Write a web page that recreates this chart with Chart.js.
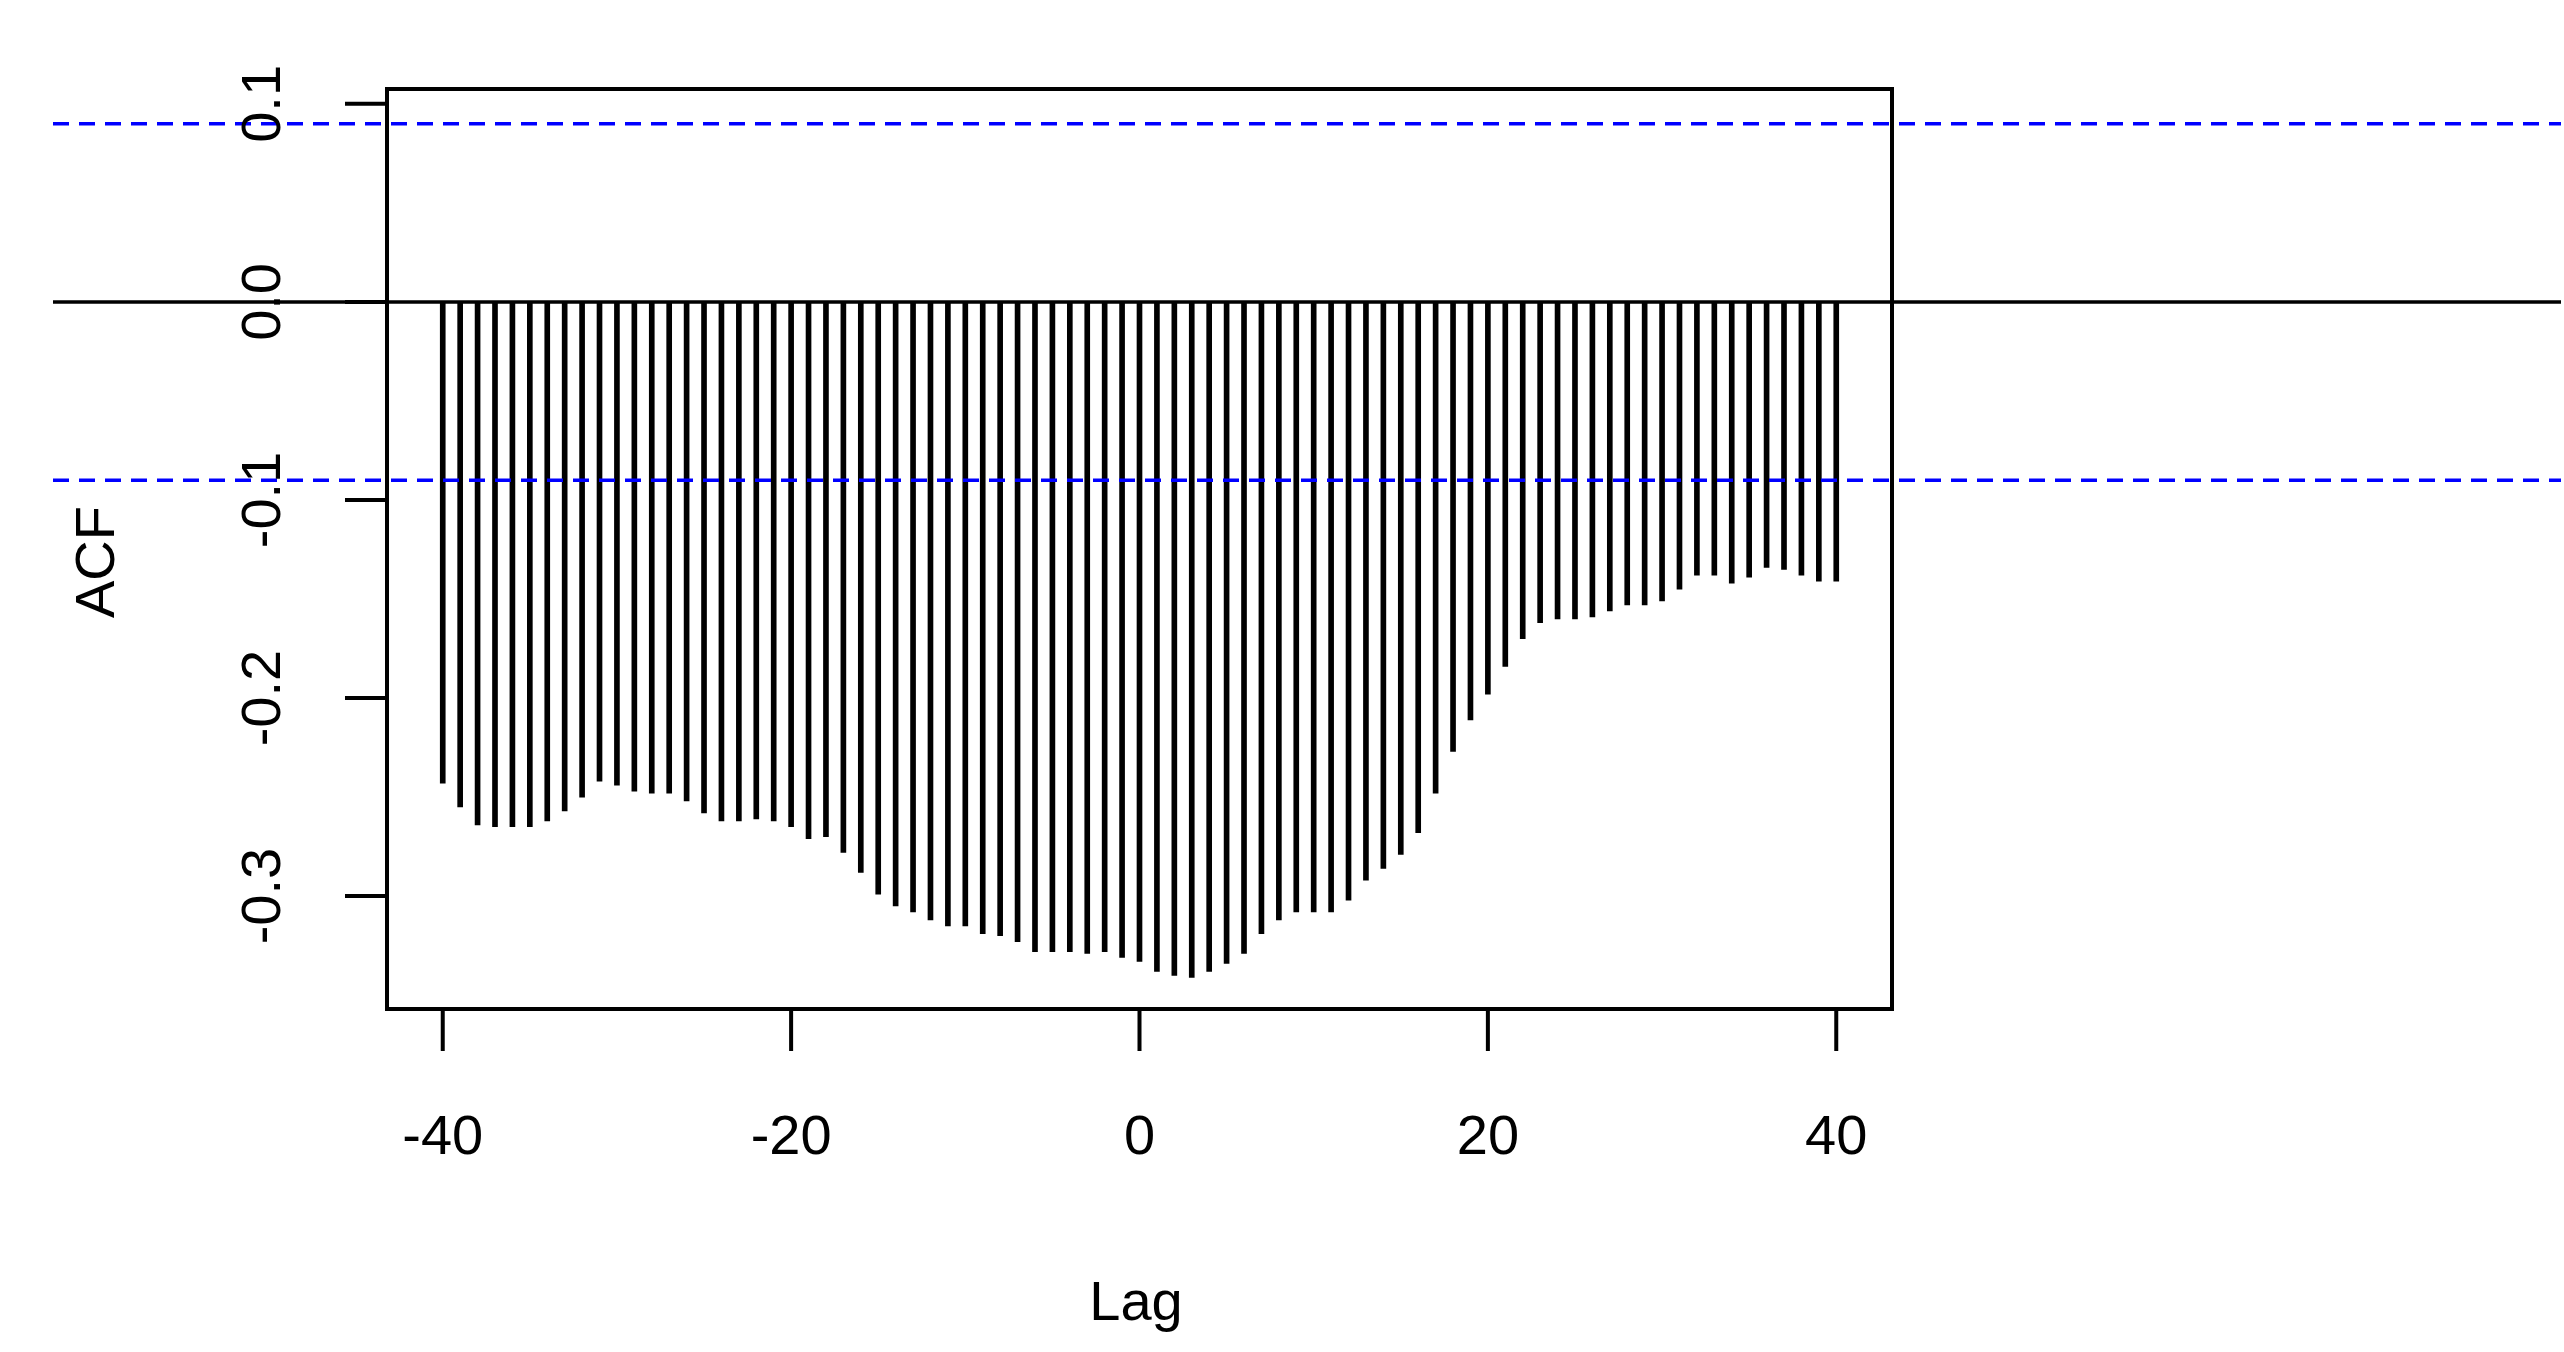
<!DOCTYPE html>
<html>
<head>
<meta charset="utf-8">
<script src="https://cdn.jsdelivr.net/npm/chart.js@4.4.0/dist/chart.umd.min.js"></script>
<style>
html, body { margin: 0; padding: 0; background: #fff; }
#wrap { width: 2564px; height: 1352px; position: relative; }
</style>
</head>
<body>
<div id="wrap"><canvas id="acf"></canvas></div>
<script>
const lags = []
for (let k = -40; k <= 40; k++) lags.push(k)
const acfValues = [
  -0.243, -0.255, -0.264, -0.265, -0.265, -0.265, -0.262, -0.257, -0.250, -0.242,
  -0.244, -0.247, -0.248, -0.248, -0.252, -0.258, -0.262, -0.262, -0.261, -0.262,
  -0.265, -0.271, -0.270, -0.278, -0.288, -0.299, -0.305, -0.308, -0.312, -0.315,
  -0.315, -0.319, -0.320, -0.323, -0.328, -0.328, -0.328, -0.329, -0.328, -0.331,
  -0.333,
  -0.338, -0.340, -0.341, -0.338, -0.334, -0.329, -0.319, -0.312, -0.308, -0.308,
  -0.308, -0.302, -0.292, -0.286, -0.279, -0.268, -0.248, -0.227, -0.211, -0.198,
  -0.184, -0.170, -0.162, -0.160, -0.160, -0.159, -0.156, -0.153, -0.153, -0.151,
  -0.145, -0.138, -0.138, -0.142, -0.139, -0.134, -0.135, -0.138, -0.141, -0.141
]
const xTicks = [-40, -20, 0, 20, 40]
const yTicks = [-0.3, -0.2, -0.1, 0.0, 0.1]
const yTickLabels = ["-0.3", "-0.2", "-0.1", "0.0", "0.1"]
const ciBound = 0.09

const font = "56px 'Liberation Sans', Arial, sans-serif"

const rStyle = {
  id: "rStyle",
  afterDatasetsDraw(chart) {
    const ctx = chart.ctx
    const a = chart.chartArea
    const xs = chart.scales.x, ys = chart.scales.y
    const W = chart.width
    ctx.save()
    // zero line and confidence bounds across the whole width
    ctx.strokeStyle = "#000"
    ctx.lineWidth = 3.5
    ctx.beginPath()
    ctx.moveTo(53, ys.getPixelForValue(0))
    ctx.lineTo(W - 3, ys.getPixelForValue(0))
    ctx.stroke()
    ctx.strokeStyle = "#0000ff"
    ctx.setLineDash([16, 10])
    ;[ciBound, -ciBound].forEach(v => {
      ctx.beginPath()
      ctx.moveTo(53, ys.getPixelForValue(v))
      ctx.lineTo(W - 3, ys.getPixelForValue(v))
      ctx.stroke()
    })
    ctx.setLineDash([])
    // box
    ctx.strokeStyle = "#000"
    ctx.lineWidth = 4
    ctx.strokeRect(a.left, a.top, a.right - a.left, a.bottom - a.top)
    // x axis
    ctx.fillStyle = "#000"
    ctx.font = font
    ctx.textAlign = "center"
    ctx.textBaseline = "middle"
    ctx.beginPath()
    ctx.moveTo(xs.getPixelForValue(-40), a.bottom)
    ctx.lineTo(xs.getPixelForValue(40), a.bottom)
    xTicks.forEach(t => {
      const px = xs.getPixelForValue(t)
      ctx.moveTo(px, a.bottom)
      ctx.lineTo(px, a.bottom + 42)
    })
    ctx.stroke()
    xTicks.forEach(t => ctx.fillText(String(t), xs.getPixelForValue(t), a.bottom + 130))
    // y axis
    ctx.beginPath()
    ctx.moveTo(a.left, ys.getPixelForValue(-0.3))
    ctx.lineTo(a.left, ys.getPixelForValue(0.1))
    yTicks.forEach(t => {
      const py = ys.getPixelForValue(t)
      ctx.moveTo(a.left, py)
      ctx.lineTo(a.left - 42, py)
    })
    ctx.stroke()
    yTicks.forEach((t, i) => {
      ctx.save()
      ctx.translate(a.left - 122, ys.getPixelForValue(t))
      ctx.rotate(-Math.PI / 2)
      ctx.fillText(yTickLabels[i], 0, 0)
      ctx.restore()
    })
    // axis titles
    ctx.fillText("Lag", 1136, 1305)
    ctx.save()
    ctx.translate(99, 562)
    ctx.rotate(-Math.PI / 2)
    ctx.fillText("ACF", 0, 0)
    ctx.restore()
    ctx.restore()
  }
}

new Chart(document.getElementById("acf"), {
  type: "bar",
  data: {
    datasets: [{
      data: lags.map((k, i) => ({ x: k, y: acfValues[i] })),
      backgroundColor: "#000",
      borderWidth: 0,
      barThickness: 5
    }]
  },
  options: {
    responsive: true,
    maintainAspectRatio: false,
    animation: false,
    devicePixelRatio: 1,
    layout: { padding: { left: 387, right: 672, top: 89, bottom: 343 } },
    plugins: { legend: { display: false }, tooltip: { enabled: false } },
    scales: {
      x: { type: "linear", min: -43.2, max: 43.2, display: false, offset: false },
      y: { min: -0.357, max: 0.1075, display: false }
    }
  },
  plugins: [rStyle]
})
</script>
</body>
</html>
